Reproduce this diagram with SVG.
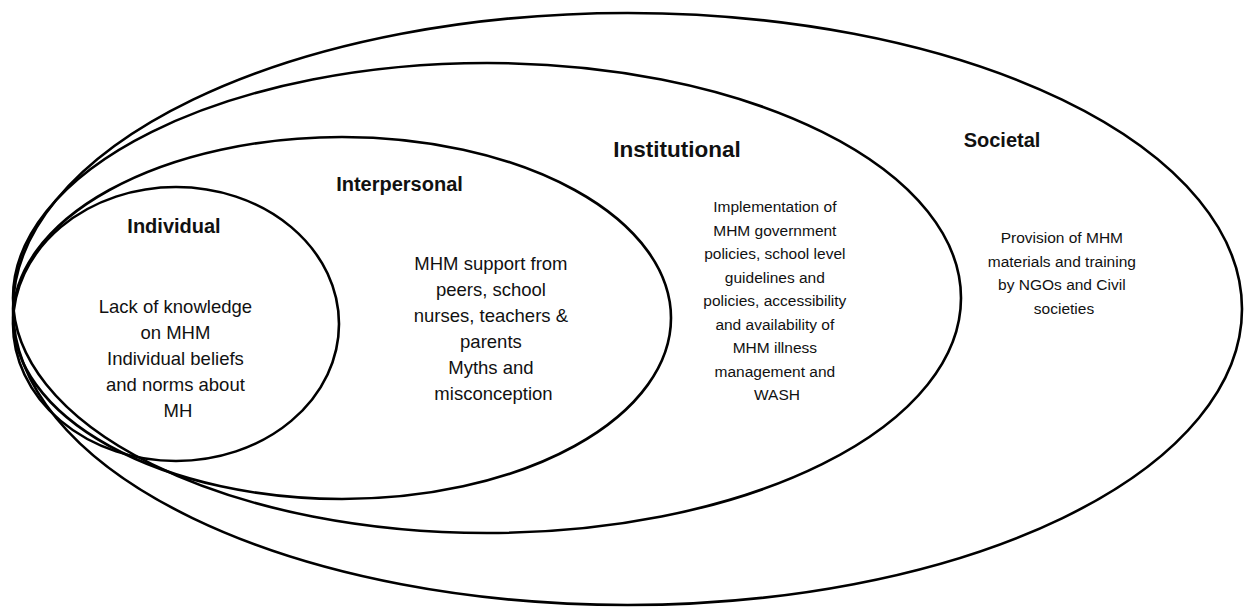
<svg xmlns="http://www.w3.org/2000/svg" width="1247" height="607" viewBox="0 0 1247 607">
<style>
.ring{fill:none;stroke:#000;stroke-width:2.6}
.title{font-family:"Liberation Sans",Arial,sans-serif;font-weight:bold;font-size:20px;fill:#111;text-anchor:middle}
.body{font-family:"Liberation Sans",Arial,sans-serif;font-size:18.5px;fill:#111;text-anchor:middle}
.small{font-family:"Liberation Sans",Arial,sans-serif;font-size:15.5px;fill:#111;text-anchor:middle}
</style>
<rect width="1247" height="607" fill="#fff"/>
<g id="societal">
<ellipse class="ring" cx="627.5" cy="309" rx="614.5" ry="296"/>
<text class="title" x="1002" y="147">Societal</text>
<text class="small" x="1064">
<tspan x="1064" y="243">Provision of MHM</tspan>
<tspan x="1064" y="266.5">materials and training</tspan>
<tspan x="1064" y="290">by NGOs and Civil</tspan>
<tspan x="1064" y="313.5">societies</tspan>
</text>
</g>
<g id="institutional">
<ellipse class="ring" cx="487" cy="298" rx="474" ry="235"/>
<text class="title" x="677" y="157" style="font-size:22.5px">Institutional</text>
<text class="small">
<tspan x="777" y="212">Implementation of</tspan>
<tspan x="777" y="235.5">MHM government</tspan>
<tspan x="777" y="259">policies, school level</tspan>
<tspan x="777" y="282.5">guidelines and</tspan>
<tspan x="777" y="306">policies, accessibility</tspan>
<tspan x="777" y="329.5">and availability of</tspan>
<tspan x="777" y="353">MHM illness</tspan>
<tspan x="777" y="376.5">management and</tspan>
<tspan x="777" y="400">WASH</tspan>
</text>
</g>
<g id="interpersonal">
<ellipse class="ring" cx="342" cy="318" rx="329" ry="181"/>
<text class="title" x="399.5" y="191">Interpersonal</text>
<text class="body">
<tspan x="493.5" y="270">MHM support from</tspan>
<tspan x="493.5" y="296">peers, school</tspan>
<tspan x="493.5" y="322">nurses, teachers &amp;</tspan>
<tspan x="493.5" y="348">parents</tspan>
<tspan x="493.5" y="374">Myths and</tspan>
<tspan x="493.5" y="400">misconception</tspan>
</text>
</g>
<g id="individual">
<ellipse class="ring" cx="176" cy="324" rx="163" ry="137"/>
<text class="title" x="174" y="233">Individual</text>
<text class="body">
<tspan x="178" y="313">Lack of knowledge</tspan>
<tspan x="178" y="339">on MHM</tspan>
<tspan x="178" y="365">Individual beliefs</tspan>
<tspan x="178" y="391">and norms about</tspan>
<tspan x="178" y="417">MH</tspan>
</text>
</g>
<g id="connectors"></g>
</svg>
